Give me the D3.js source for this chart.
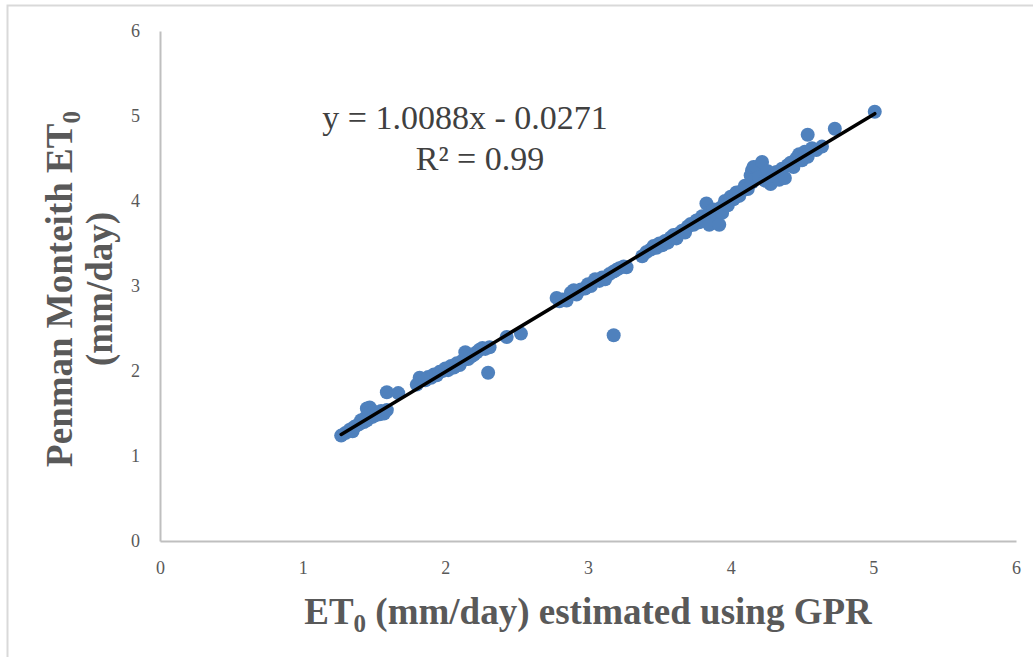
<!DOCTYPE html>
<html>
<head>
<meta charset="utf-8">
<script src="https://cdn.jsdelivr.net/npm/d3@7"></script>
<style>
  body { margin: 0; background: #fff; }
  svg text { font-family: "Liberation Serif", "DejaVu Serif", serif; }
</style>
</head>
<body>
<div id="chart"></div>
<script>
// axis ticks
const xTicks = [0, 1, 2, 3, 4, 5, 6]
const yTicks = [0, 1, 2, 3, 4, 5, 6]

// GPR estimate (x) vs Penman Monteith (y)
const gprEt0 = [
  1.27, 1.30, 1.33, 1.35, 1.36, 1.38, 1.40, 1.41, 1.43, 1.44, 1.45, 1.45, 1.47, 1.47, 1.48, 1.49, 1.50, 1.51, 1.52, 1.54, 1.55, 1.57, 1.59, 1.59, 1.67,
  1.80, 1.82, 1.84, 1.86, 1.88, 1.90, 1.92, 1.94, 1.96, 1.98, 2.00, 2.02, 2.04, 2.06, 2.08, 2.10, 2.12, 2.14, 2.16, 2.18, 2.20, 2.22, 2.24, 2.26, 2.28, 2.31, 2.30, 2.43, 2.53,
  2.78, 2.80, 2.82, 2.85, 2.88, 2.90, 2.92, 2.95, 2.98, 3.00, 3.02, 3.05, 3.08, 3.10, 3.12, 3.15, 3.18, 3.20, 3.22, 3.25, 3.27, 3.18,
  3.38, 3.41, 3.44, 3.46, 3.48, 3.50, 3.52, 3.54, 3.56, 3.58, 3.60, 3.62, 3.64, 3.66, 3.68, 3.70, 3.72, 3.74, 3.76, 3.78, 3.80, 3.82, 3.83, 3.85, 3.85, 3.88, 3.90, 3.92, 3.93, 3.94, 3.96, 3.98,
  4.00, 4.02, 4.04, 4.06, 4.08, 4.10, 4.12, 4.14, 4.15, 4.15, 4.16, 4.18, 4.20, 4.22, 4.24, 4.26, 4.28, 4.30, 4.32, 4.34, 4.36, 4.38, 4.40, 4.42, 4.44, 4.46, 4.48, 4.50, 4.52, 4.54, 4.54, 4.57, 4.60, 4.64, 4.73, 5.01
]
const pmEt0 = [
  1.24, 1.27, 1.31, 1.29, 1.34, 1.36, 1.38, 1.42, 1.40, 1.45, 1.42, 1.56, 1.50, 1.57, 1.53, 1.46, 1.52, 1.48, 1.50, 1.49, 1.53, 1.50, 1.54, 1.75, 1.74,
  1.84, 1.92, 1.90, 1.89, 1.93, 1.92, 1.96, 1.95, 1.99, 2.00, 2.03, 2.01, 2.06, 2.04, 2.09, 2.07, 2.12, 2.22, 2.14, 2.17, 2.19, 2.22, 2.25, 2.27, 2.26, 2.28, 1.98, 2.40, 2.44,
  2.86, 2.82, 2.84, 2.83, 2.92, 2.95, 2.90, 2.96, 2.97, 3.02, 3.00, 3.08, 3.06, 3.10, 3.08, 3.14, 3.17, 3.19, 3.21, 3.23, 3.22, 2.42,
  3.35, 3.40, 3.43, 3.47, 3.45, 3.50, 3.48, 3.53, 3.51, 3.57, 3.60, 3.56, 3.62, 3.65, 3.63, 3.70, 3.73, 3.72, 3.77, 3.75, 3.82, 3.78, 3.97, 3.86, 3.72, 3.90, 3.84, 3.72, 3.92, 3.86, 4.00, 3.95,
  4.05, 4.02, 4.10, 4.06, 4.12, 4.18, 4.14, 4.30, 4.36, 4.22, 4.40, 4.40, 4.28, 4.46, 4.24, 4.35, 4.20, 4.30, 4.34, 4.25, 4.38, 4.27, 4.42, 4.45, 4.40, 4.50, 4.55, 4.48, 4.58, 4.52, 4.78, 4.62, 4.60, 4.64, 4.85, 5.05
]

// trendline
const slope = 1.0088, intercept = -0.0271
const eqLabel = "y = 1.0088x - 0.0271"
const r2Label = "R² = 0.99"

const W = 1033, H = 657
const MARGIN = { left: 160, right: 17, top: 31, bottom: 116 }

const svg = d3.select("#chart").append("svg")
    .attr("width", W)
    .attr("height", H)

// outer frame
svg.append("rect")
    .attr("x", 7.5).attr("y", 5.5)
    .attr("width", W + 20).attr("height", H + 20)
    .attr("fill", "#fff")
    .attr("stroke", "#d9d9d9")
    .attr("stroke-width", 2)

const xScale = d3.scaleLinear().domain([0, 6]).range([MARGIN.left, W - MARGIN.right])
const yScale = d3.scaleLinear().domain([0, 6]).range([H - MARGIN.bottom, MARGIN.top])

// axes (no tick marks, grey line)
svg.append("g")
    .attr("transform", "translate(0," + yScale(0) + ")")
    .call(d3.axisBottom(xScale).tickValues(xTicks).tickSize(0).tickPadding(20).tickFormat(d3.format("d")))
    .attr("font-family", null).attr("font-size", null)
svg.append("g")
    .attr("transform", "translate(" + xScale(0) + ",0)")
    .call(d3.axisLeft(yScale).tickValues(yTicks).tickSize(0).tickPadding(20).tickFormat(d3.format("d")))
    .attr("font-family", null).attr("font-size", null)

svg.selectAll(".domain").attr("stroke", "#bfbfbf").attr("stroke-width", 2)
svg.selectAll(".tick text")
    .style("font-family", "'Liberation Serif', serif")
    .style("font-size", "18px")
    .attr("fill", "#595959")

// points
const points = gprEt0.map((x, i) => ({ x: x, y: pmEt0[i] }))
svg.append("g").selectAll("circle")
    .data(points)
    .join("circle")
    .attr("cx", d => xScale(d.x))
    .attr("cy", d => yScale(d.y))
    .attr("r", 7)
    .attr("fill", "#4f81bd")

// trendline from min x to max x
const xMin = d3.min(gprEt0), xMax = d3.max(gprEt0)
svg.append("line")
    .attr("x1", xScale(xMin)).attr("y1", yScale(slope * xMin + intercept))
    .attr("x2", xScale(xMax)).attr("y2", yScale(slope * xMax + intercept))
    .attr("stroke", "#000")
    .attr("stroke-width", 3.5)
    .attr("stroke-linecap", "round")

// equation
svg.append("text")
    .attr("x", 465).attr("y", 129)
    .attr("text-anchor", "middle")
    .attr("fill", "#404040")
    .style("font-size", "34px")
    .text(eqLabel)
svg.append("text")
    .attr("x", 480).attr("y", 170)
    .attr("text-anchor", "middle")
    .attr("fill", "#404040")
    .style("font-size", "34px")
    .text(r2Label)

// x axis title
const xt = svg.append("text")
    .attr("x", 588).attr("y", 624)
    .attr("text-anchor", "middle")
    .attr("fill", "#595959")
    .style("font-size", "37px")
    .style("font-weight", "bold")
xt.append("tspan").text("ET")
xt.append("tspan").attr("dy", 8).style("font-size", "25px").text("0")
xt.append("tspan").attr("dy", -8).text(" (mm/day) estimated using GPR")

// y axis title, two lines
const yt = svg.append("g").attr("transform", "translate(72,289) rotate(-90)")
const yl1 = yt.append("text")
    .attr("x", 0).attr("y", 0)
    .attr("text-anchor", "middle")
    .attr("fill", "#595959")
    .style("font-size", "37px")
    .style("font-weight", "bold")
yl1.append("tspan").text("Penman Monteith ET")
yl1.append("tspan").attr("dy", 8).style("font-size", "25px").text("0")
yt.append("text")
    .attr("x", 0).attr("y", 40)
    .attr("text-anchor", "middle")
    .attr("fill", "#595959")
    .style("font-size", "37px")
    .style("font-weight", "bold")
    .text("(mm/day)")
</script>
</body>
</html>
